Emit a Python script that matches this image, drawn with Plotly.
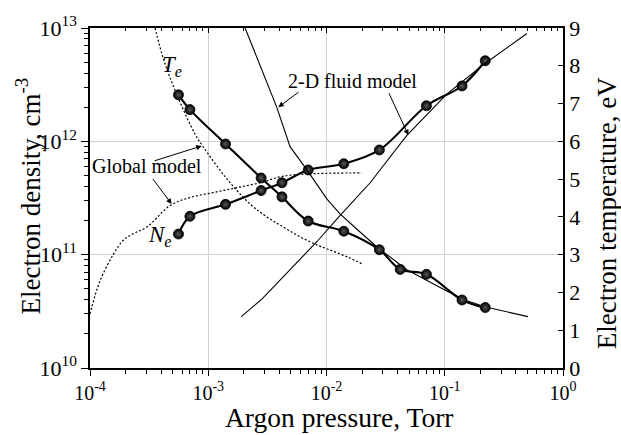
import plotly.graph_objects as go

# ---------------- data ----------------
pressure_exp = [5.6e-4, 7.0e-4, 1.4e-3, 2.8e-3, 4.2e-3, 7.0e-3, 1.4e-2, 2.8e-2, 4.2e-2, 7.0e-2, 0.14, 0.22]
te_exp = [7.23, 6.84, 5.93, 5.03, 4.53, 3.89, 3.62, 3.13, 2.61, 2.48, 1.80, 1.60]

pressure_ne_exp = [5.6e-4, 7.0e-4, 1.4e-3, 2.8e-3, 4.2e-3, 7.0e-3, 1.4e-2, 2.8e-2, 7.0e-2, 0.14, 0.22]
ne_exp = [1.52e11, 2.18e11, 2.78e11, 3.68e11, 4.31e11, 5.59e11, 6.34e11, 8.39e11, 2.06e12, 3.08e12, 5.14e12]

pressure_te_global = [3.55e-4, 4.2e-4, 5.4e-4, 7.7e-4, 9.0e-4, 1.4e-3, 2.26e-3, 3.13e-3, 4.32e-3,
                      5.98e-3, 8.28e-3, 1.14e-2, 1.58e-2, 1.99e-2]
te_global = [9.0, 8.16, 7.25, 6.2, 5.87, 5.05, 4.34, 4.0, 3.73, 3.47, 3.26, 3.09, 2.91, 2.76]

pressure_ne_global = [1e-4, 1.21e-4, 1.57e-4, 1.91e-4, 2.32e-4, 3.02e-4, 4.75e-4, 7.0e-4, 1.1e-3,
                      1.74e-3, 2.74e-3, 4.32e-3, 8.28e-3, 1.99e-2]
ne_global = [3.0e10, 5.8e10, 1.0e11, 1.34e11, 1.53e11, 1.75e11, 2.71e11, 3.19e11, 3.53e11,
             3.9e11, 4.31e11, 4.93e11, 5.19e11, 5.26e11]

pressure_te_fluid = [2.05e-3, 3.8e-3, 4.92e-3, 6.81e-3, 1.01e-2, 1.3e-2, 1.92e-2, 2.75e-2, 4.78e-2,
                     0.104, 0.154, 0.218, 0.505]
te_fluid = [9.0, 6.9, 5.86, 5.25, 4.47, 4.08, 3.6, 3.17, 2.6, 2.04, 1.78, 1.62, 1.36]

pressure_ne_fluid = [1.9e-3, 2.84e-3, 8.28e-3, 1.3e-2, 2.34e-2, 3.68e-2, 4.78e-2, 0.104, 0.212, 0.495]
ne_fluid = [2.84e10, 4.05e10, 1.30e11, 2.21e11, 4.31e11, 7.85e11, 1.13e12, 2.61e12, 4.74e12, 8.94e12]

x_major = [1e-4, 1e-3, 1e-2, 1e-1, 1e0]
x_labels = ["10<sup>-4</sup>", "10<sup>-3</sup>", "10<sup>-2</sup>", "10<sup>-1</sup>", "10<sup>0</sup>"]
y_major = [1e10, 1e11, 1e12, 1e13]
y_labels = ["10<sup>10</sup>", "10<sup>11</sup>", "10<sup>12</sup>", "10<sup>13</sup>"]
y2_ticks = list(range(0, 10))

x_minor = [m * 10.0 ** e for e in range(-4, 0) for m in range(2, 10)]
y_minor = [m * 10.0 ** e for e in range(10, 13) for m in range(2, 10)]

FONT = "Liberation Serif, Times New Roman, serif"

# ---------------- figure ----------------
fig = go.Figure()

marker_style = dict(size=10, color="black", symbol="circle",
                    gradient=dict(type="radial", color="#5a5a5a"),
                    line=dict(width=0.8, color="black"))
dotted = dict(color="black", width=1.2, dash="2px,2px", shape="spline")

# global model (dotted)
fig.add_trace(go.Scatter(x=pressure_ne_global, y=ne_global, mode="lines", line=dotted,
                         xaxis="x", yaxis="y", showlegend=False, hoverinfo="skip"))
fig.add_trace(go.Scatter(x=pressure_te_global, y=te_global, mode="lines", line=dotted,
                         xaxis="x", yaxis="y2", showlegend=False, hoverinfo="skip"))
# 2-D fluid model (thin solid)
fig.add_trace(go.Scatter(x=pressure_ne_fluid, y=ne_fluid, mode="lines",
                         line=dict(color="black", width=1.1),
                         xaxis="x2", yaxis="y", showlegend=False, hoverinfo="skip"))
fig.add_trace(go.Scatter(x=pressure_te_fluid, y=te_fluid, mode="lines",
                         line=dict(color="black", width=1.1),
                         xaxis="x", yaxis="y2", showlegend=False, hoverinfo="skip"))
# experiment (thick + balls)
fig.add_trace(go.Scatter(x=pressure_ne_exp, y=ne_exp, mode="lines+markers",
                         line=dict(color="black", width=2.1, shape="spline"),
                         marker=marker_style, xaxis="x", yaxis="y",
                         showlegend=False, hoverinfo="skip"))
fig.add_trace(go.Scatter(x=pressure_exp, y=te_exp, mode="lines+markers",
                         line=dict(color="black", width=2.1, shape="spline"),
                         marker=marker_style, xaxis="x", yaxis="y2",
                         showlegend=False, hoverinfo="skip"))

# plot area geometry (pixels)
L, R, T, B = 90, 563, 23, 368
W, H = 621, 435


def px(xp):
    return (xp - L) / (R - L)


def py(yp):
    return (B - yp) / (B - T)


def label(text, x, y, size, angle=0):
    return dict(text=text, x=px(x), y=py(y), xref="paper", yref="paper",
                xanchor="center", yanchor="middle", textangle=angle,
                showarrow=False, font=dict(family=FONT, size=size, color="black"))


annotations = [
    label("<i>T<sub>e</sub></i>", 172, 62, 23),
    label("<i>N<sub>e</sub></i>", 160, 234, 23),
    label("Global model", 147, 163, 20),
    label("2-D fluid model", 352, 77, 20),
    label("Argon pressure, Torr", 339, 418, 27.5),
    label("Electron density, cm<sup>-3</sup>", 28, 194, 27, -90),
    label("Electron temperature, eV", 607, 211, 27, -90),
]

# arrows (tip, tail)
arrows = [((201.7, 142.7), (153, 158)),
          ((171.7, 201.7), (151.7, 175)),
          ((278.3, 103.3), (300, 87.3)),
          ((408.3, 131.7), (388.3, 88.3))]
for (tx, ty), (sx, sy) in arrows:
    annotations.append(dict(text="", x=px(tx), y=py(ty), xref="paper", yref="paper",
                            ax=sx - tx, ay=sy - ty, axref="pixel", ayref="pixel",
                            showarrow=True, arrowhead=2, arrowsize=1.1, arrowwidth=1,
                            arrowcolor="black", standoff=0))

axis_common = dict(showline=True, linecolor="black", linewidth=1.5, mirror=False)

fig.update_layout(
    width=W, height=H,
    margin=dict(l=L, r=W - R, t=T, b=H - B, pad=0),
    paper_bgcolor="white", plot_bgcolor="white",
    font=dict(family=FONT, color="black"),
    showlegend=False,
    xaxis=dict(type="log", range=[-4, 0], tickmode="array", tickvals=x_major, ticktext=x_labels,
               ticks="outside", ticklen=6, tickwidth=1.2, tickcolor="black",
               tickfont=dict(family=FONT, size=20, color="black"),
               showgrid=True, gridcolor="#d2d2d2", gridwidth=1,
               minor=dict(tickmode="array", tickvals=x_minor, ticks="outside", ticklen=4,
                          tickwidth=1, tickcolor="black", showgrid=False),
               zeroline=False, anchor="y", **axis_common),
    xaxis2=dict(type="log", range=[-4, 0], overlaying="x", side="top", anchor="y",
                tickmode="array", tickvals=x_major, showticklabels=False,
                ticks="inside", ticklen=5, tickwidth=1.2, tickcolor="black",
                minor=dict(tickmode="array", tickvals=x_minor, ticks="inside", ticklen=3,
                           tickwidth=1, tickcolor="black", showgrid=False),
                showgrid=False, zeroline=False, **axis_common),
    yaxis=dict(type="log", range=[10, 13], tickmode="array", tickvals=y_major, ticktext=y_labels,
               ticks="outside", ticklen=7, tickwidth=1.2, tickcolor="black",
               tickfont=dict(family=FONT, size=22, color="black"),
               showgrid=True, gridcolor="#d2d2d2", gridwidth=1,
               minor=dict(tickmode="array", tickvals=y_minor, ticks="outside", ticklen=4,
                          tickwidth=1, tickcolor="black", showgrid=False),
               zeroline=False, anchor="x", **axis_common),
    yaxis2=dict(range=[0, 9], overlaying="y", side="right", anchor="x",
                tickmode="array", tickvals=y2_ticks, ticks="inside", ticklen=5, tickwidth=1.2,
                tickcolor="black", tickfont=dict(family=FONT, size=22, color="black"),
                showgrid=False, zeroline=False, **axis_common),
    annotations=annotations,
)

fig.write_html("out.html")
